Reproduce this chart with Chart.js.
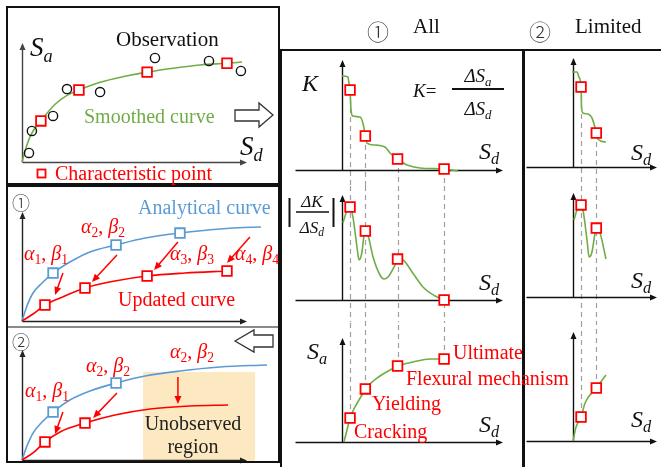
<!DOCTYPE html>
<html>
<head>
<meta charset="utf-8">
<script src="https://cdn.jsdelivr.net/npm/chart.js@4.4.1/dist/chart.umd.min.js"></script>
<style>
  body { margin: 0; background: #fff; }
  #fig { position: relative; width: 661px; height: 467px; overflow: hidden; font-family: "Liberation Serif", "Times New Roman", serif; }
  #fig canvas { position: absolute; left: 0; top: 0; }
  .t { position: absolute; white-space: nowrap; line-height: 1; }
  .t sub { font-size: 0.68em; vertical-align: -0.3em; line-height: 0; }
  .c { font-family: "Noto Sans CJK JP", "DejaVu Sans", sans-serif; font-weight: 300; }
  .ln { position: absolute; background: #111; }
  svg { position: absolute; left: 0; top: 0; }
</style>
</head>
<body>
<div id="fig"></div>
<script>
// values, Sd / Sa in arbitrary units

// top-left: observations and smoothed curve
const obsSd = [0.31, 0.44, 1.38, 2.0, 3.47, 5.91, 8.31, 9.73];
const obsSa = [0.76, 2.61, 3.87, 6.13, 5.88, 8.74, 8.49, 7.65];
const smoothSd = [0, 0.18, 0.4, 0.84, 1.47, 2.0, 2.53, 3.47, 4.58, 5.56, 6.8, 7.91, 9.11, 9.78];
const smoothSa = [0, 1.2, 2.3, 3.45, 4.85, 5.6, 6.05, 6.7, 7.2, 7.55, 7.9, 8.15, 8.3, 8.4];
const charSd = [0.84, 2.53, 5.56, 9.11];
const charSa = [3.45, 6.05, 7.55, 8.3];

// (1) analytical vs updated curve
const ana1Sd = [0, 0.22, 0.49, 0.89, 1.38, 2.13, 3.02, 4.18, 5.47, 7.02, 8.8, 10.62, 10.93];
const ana1Sa = [0, 1.38, 2.57, 3.49, 4.4, 5.41, 6.33, 6.97, 7.61, 8.07, 8.44, 8.62, 8.62];
const ana1PtSd = [1.38, 4.18, 7.02, 10.62];
const ana1PtSa = [4.4, 6.97, 8.07, 8.62];
const upd1Sd = [0, 0.49, 1.02, 1.69, 2.8, 4.13, 5.56, 7.24, 9.11];
const upd1Sa = [0, 0.64, 1.47, 2.11, 3.03, 3.67, 4.13, 4.4, 4.59];
const upd1PtSd = [1.02, 2.8, 5.56, 9.11];
const upd1PtSa = [1.47, 3.03, 4.13, 4.59];
const move1 = [[1.82, 4.4, 1.47, 2.39], [4.22, 6.06, 3.11, 3.58], [6.93, 7.25, 5.87, 4.68], [10.13, 7.71, 9.11, 5.32]];

// (2) with an unobserved region
const ana2Sd = [0, 0.22, 0.49, 0.89, 1.38, 2.13, 3.02, 4.18, 5.47, 7.02, 8.8, 10.89];
const ana2Sa = [0, 1.27, 2.45, 3.45, 4.36, 5.45, 6.27, 7.0, 7.64, 8.09, 8.45, 8.64];
const ana2PtSd = [1.38, 4.18];
const ana2PtSa = [4.36, 7.0];
const upd2Sd = [0, 0.49, 1.02, 1.69, 2.8, 4.13, 5.69, 7.47, 9.16];
const upd2Sa = [0, 0.64, 1.64, 2.55, 3.36, 4.09, 4.64, 4.91, 5.0];
const upd2PtSd = [1.02, 2.8];
const upd2PtSa = [1.64, 3.36];
const move2 = [[1.82, 4.36, 1.47, 2.36], [4.22, 6.09, 3.16, 3.82], [6.93, 7.55, 6.93, 5.09]];
const unobsSd = [5.38, 10.36];
const unobsSa = [-0.18, 8.0];

// (1) All: K, |dK/dSd| and Sa
const critSd = [0.5, 1.45, 3.45, 6.34];
const kSd = [0, 0.37, 0.43, 0.5, 0.56, 0.68, 1.12, 1.3, 1.45, 1.55, 2.05, 2.67, 2.98, 3.45, 4.04, 4.84, 6.34, 7.2];
const kVal = [8.55, 8.45, 7.9, 7.27, 5.45, 4.9, 4.82, 4.27, 3.09, 2.45, 2.27, 2.09, 1.55, 1.0, 0.45, 0.18, 0.09, -0.09];
const kCrit = [7.27, 3.09, 1.0, 0.09];
const dkSd = [0.06, 0.25, 0.37, 0.5, 0.68, 0.93, 1.06, 1.24, 1.37, 1.45, 1.61, 1.93, 2.36, 2.61, 2.86, 3.29, 3.45, 3.79, 4.35, 5.03, 5.78, 6.34];
const dkVal = [7.33, 8.29, 8.76, 8.86, 7.9, 5.05, 3.81, 4.57, 6.19, 6.57, 6.19, 4.1, 2.38, 2.0, 2.19, 3.33, 3.9, 3.81, 2.67, 1.24, 0.38, 0];
const dkCrit = [8.86, 6.57, 3.9, 0];
const saSd = [0.12, 0.31, 0.5, 0.81, 1.24, 1.45, 2.17, 2.98, 3.45, 4.41, 5.47, 6.34];
const saVal = [0, 1.15, 2.31, 3.37, 4.52, 5.1, 6.15, 6.92, 7.31, 7.69, 7.98, 7.98];
const saCrit = [2.31, 5.1, 7.31, 7.98];

// (2) Limited
const limCritSd = [0.5, 1.45];
const limKSd = [-0.06, 0.25, 0.37, 0.5, 0.53, 0.62, 0.93, 1.18, 1.45, 1.53, 2.05];
const limKVal = [8.72, 8.72, 8.26, 7.34, 5.5, 4.95, 4.86, 4.5, 3.12, 2.57, 2.29];
const limKCrit = [7.34, 3.12];
const limDkSd = [0.06, 0.25, 0.5, 0.62, 0.87, 1.0, 1.18, 1.37, 1.45, 1.68, 2.05];
const limDkVal = [7.4, 8.37, 8.85, 8.37, 5.48, 3.85, 4.33, 6.15, 6.63, 6.15, 3.65];
const limDkCrit = [8.85, 6.63];
const limSaSd = [0, 0.19, 0.5, 0.75, 1.45, 2.05];
const limSaVal = [0, 1.28, 2.2, 3.49, 4.86, 6.06];
const limSaCrit = [2.2, 4.86];

const GREEN = '#70ad47', BLUE = '#5b9bd5', RED = '#ff0000';
const W = 661, H = 467;
const fig = document.getElementById('fig');

const pts = (xs, ys) => xs.map((x, i) => ({ x, y: ys[i] }));

function curve(xs, ys, color) {
  return { data: pts(xs, ys), borderColor: color, borderWidth: 1.6, pointRadius: 0,
    cubicInterpolationMode: 'monotone', fill: false, clip: false };
}
function squares(xs, ys, color) {
  return { data: pts(xs, ys), showLine: false, pointStyle: 'rect', pointRadius: 6.8,
    pointBorderColor: color, pointBackgroundColor: '#fff', pointBorderWidth: 1.8, clip: false };
}
function circles(xs, ys) {
  return { data: pts(xs, ys), showLine: false, pointStyle: 'circle', pointRadius: 4.6,
    pointBorderColor: '#111', pointBackgroundColor: 'rgba(0,0,0,0)', pointBorderWidth: 1.4, clip: false };
}

function arrowHead(ctx, x1, y1, x2, y2, len, half) {
  const a = Math.atan2(y2 - y1, x2 - x1);
  ctx.beginPath();
  ctx.moveTo(x2, y2);
  ctx.lineTo(x2 - len * Math.cos(a) + half * Math.sin(a), y2 - len * Math.sin(a) - half * Math.cos(a));
  ctx.lineTo(x2 - len * Math.cos(a) - half * Math.sin(a), y2 - len * Math.sin(a) + half * Math.cos(a));
  ctx.closePath();
  ctx.fill();
}

// shading, dashed guides, axes and arrows drawn below the datasets
const decorPlugin = {
  id: 'decor',
  beforeDatasetsDraw(chart, args, o) {
    const ctx = chart.ctx, a = chart.chartArea;
    const sx = chart.scales.x, sy = chart.scales.y;
    ctx.save();
    if (o.shade) {
      const x1 = sx.getPixelForValue(o.shade.xs[0]), x2 = sx.getPixelForValue(o.shade.xs[1]);
      const y1 = sy.getPixelForValue(o.shade.ys[0]), y2 = sy.getPixelForValue(o.shade.ys[1]);
      ctx.fillStyle = '#fde9c1';
      ctx.fillRect(x1, y2, x2 - x1, y1 - y2);
    }
    if (o.dash) {
      ctx.strokeStyle = '#a0a0a0';
      ctx.lineWidth = 1.2;
      ctx.setLineDash([5, 4]);
      o.dash.xs.forEach((v, i) => {
        const px = Math.round(sx.getPixelForValue(v)) + 0.5;
        const y1 = o.dash.ys ? sy.getPixelForValue(o.dash.ys[i]) : o.dash.from;
        ctx.beginPath();
        ctx.moveTo(px, y1);
        ctx.lineTo(px, o.dash.to);
        ctx.stroke();
      });
      ctx.setLineDash([]);
    }
    // axes with arrow tips
    ctx.strokeStyle = o.axisColor || '#111';
    ctx.fillStyle = o.axisColor || '#111';
    ctx.lineWidth = 1.4;
    const ox = Math.round(a.left) + 0.5, oy = Math.round(a.bottom) + 0.5;
    ctx.beginPath();
    ctx.moveTo(ox - (o.xExt || 0), oy);
    ctx.lineTo(a.right - 4, oy);
    ctx.moveTo(ox, oy);
    ctx.lineTo(ox, a.top + 4);
    ctx.stroke();
    arrowHead(ctx, ox, oy, a.right, oy, 7, 3);
    arrowHead(ctx, ox, oy, ox, a.top, 7, 3);
    if (o.moves) {
      ctx.strokeStyle = RED;
      ctx.fillStyle = RED;
      ctx.lineWidth = 1.5;
      o.moves.forEach(m => {
        const x1 = sx.getPixelForValue(m[0]), y1 = sy.getPixelForValue(m[1]);
        const x2 = sx.getPixelForValue(m[2]), y2 = sy.getPixelForValue(m[3]);
        const ang = Math.atan2(y2 - y1, x2 - x1);
        ctx.beginPath();
        ctx.moveTo(x1, y1);
        ctx.lineTo(x2 - 5 * Math.cos(ang), y2 - 5 * Math.sin(ang));
        ctx.stroke();
        arrowHead(ctx, x1, y1, x2, y2, 8, 3.5);
      });
    }
    ctx.restore();
  }
};

// one transparent full-size canvas per panel, the plot area placed by padding
function panel(area, xMax, datasets, decor) {
  const cv = document.createElement('canvas');
  cv.width = W; cv.height = H;
  cv.style.width = W + 'px'; cv.style.height = H + 'px';
  fig.appendChild(cv);
  return new Chart(cv, {
    type: 'line',
    data: { datasets },
    options: {
      responsive: false,
      animation: false,
      events: [],
      layout: { autoPadding: false, padding: { left: area[0], top: area[1], right: W - area[2], bottom: H - area[3] } },
      scales: {
        x: { type: 'linear', display: false, min: 0, max: xMax },
        y: { type: 'linear', display: false, min: 0, max: 10 }
      },
      plugins: { legend: { display: false }, tooltip: { enabled: false }, decor }
    },
    plugins: [decorPlugin]
  });
}

// left column
panel([22, 43, 247, 162], 10,
  [squares(charSd, charSa, RED), circles(obsSd, obsSa), curve(smoothSd, smoothSa, GREEN)],
  { axisColor: '#444' });
panel([22, 212, 247, 321], 10,
  [squares(upd1PtSd, upd1PtSa, RED), squares(ana1PtSd, ana1PtSa, BLUE),
   curve(upd1Sd, upd1Sa, RED), curve(ana1Sd, ana1Sa, BLUE)],
  { axisColor: '#222', moves: move1 });
panel([22, 350, 247, 460], 10,
  [squares(upd2PtSd, upd2PtSa, RED), squares(ana2PtSd, ana2PtSa, BLUE),
   curve(upd2Sd, upd2Sa, RED), curve(ana2Sd, ana2Sa, BLUE)],
  { axisColor: '#222', moves: move2, shade: { xs: unobsSd, ys: unobsSa } });

// (1) All
panel([342, 60, 503, 170], 10, [squares(critSd, kCrit, RED), curve(kSd, kVal, GREEN)],
  { xExt: 47, dash: { xs: critSd, ys: kCrit, to: 186 } });
panel([342, 195, 503, 300], 10, [squares(critSd, dkCrit, RED), curve(dkSd, dkVal, GREEN)],
  { xExt: 47, dash: { xs: critSd, from: 186, to: 322 } });
panel([342, 338, 503, 442], 10, [squares(critSd, saCrit, RED), curve(saSd, saVal, GREEN)],
  { xExt: 47, dash: { xs: critSd, ys: saCrit, to: 322 } });

// (2) Limited
panel([573, 58, 657, 167], 5.22, [squares(limCritSd, limKCrit, RED), curve(limKSd, limKVal, GREEN)],
  { xExt: 47, dash: { xs: limCritSd, ys: limKCrit, to: 186 } });
panel([573, 193, 657, 297], 5.22, [squares(limCritSd, limDkCrit, RED), curve(limDkSd, limDkVal, GREEN)],
  { xExt: 47, dash: { xs: limCritSd, from: 186, to: 322 } });
panel([573, 332, 657, 441], 5.22, [squares(limCritSd, limSaCrit, RED), curve(limSaSd, limSaVal, GREEN)],
  { xExt: 47, dash: { xs: limCritSd, ys: limSaCrit, to: 322 } });

// frames
function line(x, y, w, h, color) {
  const d = document.createElement('div');
  d.className = 'ln';
  Object.assign(d.style, { left: x + 'px', top: y + 'px', width: w + 'px', height: h + 'px' });
  if (color) d.style.background = color;
  fig.appendChild(d);
}
line(6, 6, 274, 2); line(6, 6, 2, 179); line(278, 6, 2, 179); line(6, 183, 274, 2);
line(6, 185, 274, 2); line(6, 185, 2, 278); line(278, 185, 2, 278); line(6, 461, 274, 2);
line(8, 326, 270, 1.5, '#8a8a8a');
line(280, 49, 381, 2); line(280, 49, 2, 418); line(522, 49, 2.5, 418);

// hollow block arrows
fig.insertAdjacentHTML('beforeend',
  '<svg width="661" height="467">' +
  '<polygon points="235,110 259,110 259,103 273,115 259,127 259,121 235,121" fill="#fff" stroke="#333" stroke-width="1.3"/>' +
  '<polygon points="235,341 254,330 254,335 273,335 273,347 254,347 254,352" fill="#fff" stroke="#333" stroke-width="1.3"/>' +
  '<rect x="37.5" y="169.5" width="8" height="8" fill="#fff" stroke="' + RED + '" stroke-width="1.8"/>' +
  '<line x1="296" y1="212" x2="329" y2="212" stroke="#111" stroke-width="1.5"/>' +
  '<line x1="289.5" y1="198" x2="289.5" y2="227" stroke="#111" stroke-width="2"/>' +
  '<line x1="333.5" y1="198" x2="333.5" y2="227" stroke="#111" stroke-width="2"/>' +
  '<line x1="452" y1="89" x2="504" y2="89" stroke="#111" stroke-width="2"/>' +
  '</svg>');

// texts, positioned by baseline
function txt(x, base, html, size, color, center, cls) {
  const d = document.createElement('div');
  d.className = 't' + (cls ? ' ' + cls : '');
  d.style.fontSize = size + 'px';
  d.style.color = color || '#111';
  d.style.top = (base - 0.84 * size) + 'px';
  d.style.left = x + 'px';
  if (center) d.style.transform = 'translateX(-50%)';
  d.innerHTML = html;
  fig.appendChild(d);
}
const Sa = '<i>S</i><sub><i>a</i></sub>';
const Sd = '<i>S</i><sub><i>d</i></sub>';
const ab = n => '<i>α</i><sub>' + n + '</sub>, <i>β</i><sub>' + n + '</sub>';

txt(30, 57, Sa, 27);
txt(116, 47, 'Observation', 21);
txt(84, 123, 'Smoothed curve', 20, GREEN);
txt(240, 156, Sd, 27);
txt(55, 180, 'Characteristic point', 20, RED);

txt(12, 208, '①', 18, '#333', false, 'c');
txt(138, 214, 'Analytical curve', 20, BLUE);
txt(81, 233, ab(2), 20, RED);
txt(24, 260, ab(1), 20, RED);
txt(170, 260, ab(3), 20, RED);
txt(235, 260, ab(4), 20, RED);
txt(118, 306, 'Updated curve', 20, RED);

txt(12, 347, '②', 18, '#333', false, 'c');
txt(25, 397, ab(1), 20, RED);
txt(86, 372, ab(2), 20, RED);
txt(170, 358, ab(2), 20, RED);
txt(193, 430, 'Unobserved', 20, '#222', true);
txt(193, 453, 'region', 20, '#222', true);

txt(367, 37, '①', 22, '#333', false, 'c');
txt(413, 34, 'All', 21);
txt(529, 37, '②', 22, '#333', false, 'c');
txt(575, 34, 'Limited', 21);

txt(302, 91, '<i>K</i>', 24);
txt(413, 97, '<i>K</i>=', 19);
txt(478, 82, '<i>ΔS</i><sub><i>a</i></sub>', 19, '#111', true);
txt(478, 115, '<i>ΔS</i><sub><i>d</i></sub>', 19, '#111', true);
txt(312, 207, '<i>ΔK</i>', 17, '#111', true);
txt(312, 233, '<i>ΔS</i><sub><i>d</i></sub>', 17, '#111', true);
txt(307, 359, Sa, 24);

txt(479, 159, Sd, 24);
txt(479, 290, Sd, 24);
txt(479, 432, Sd, 24);
txt(631, 160, Sd, 24);
txt(631, 288, Sd, 24);
txt(631, 427, Sd, 24);

txt(453, 359, 'Ultimate', 20, RED);
txt(406, 385, 'Flexural mechanism', 20, RED);
txt(372, 410, 'Yielding', 20, RED);
txt(354, 438, 'Cracking', 20, RED);
</script>
</body>
</html>
